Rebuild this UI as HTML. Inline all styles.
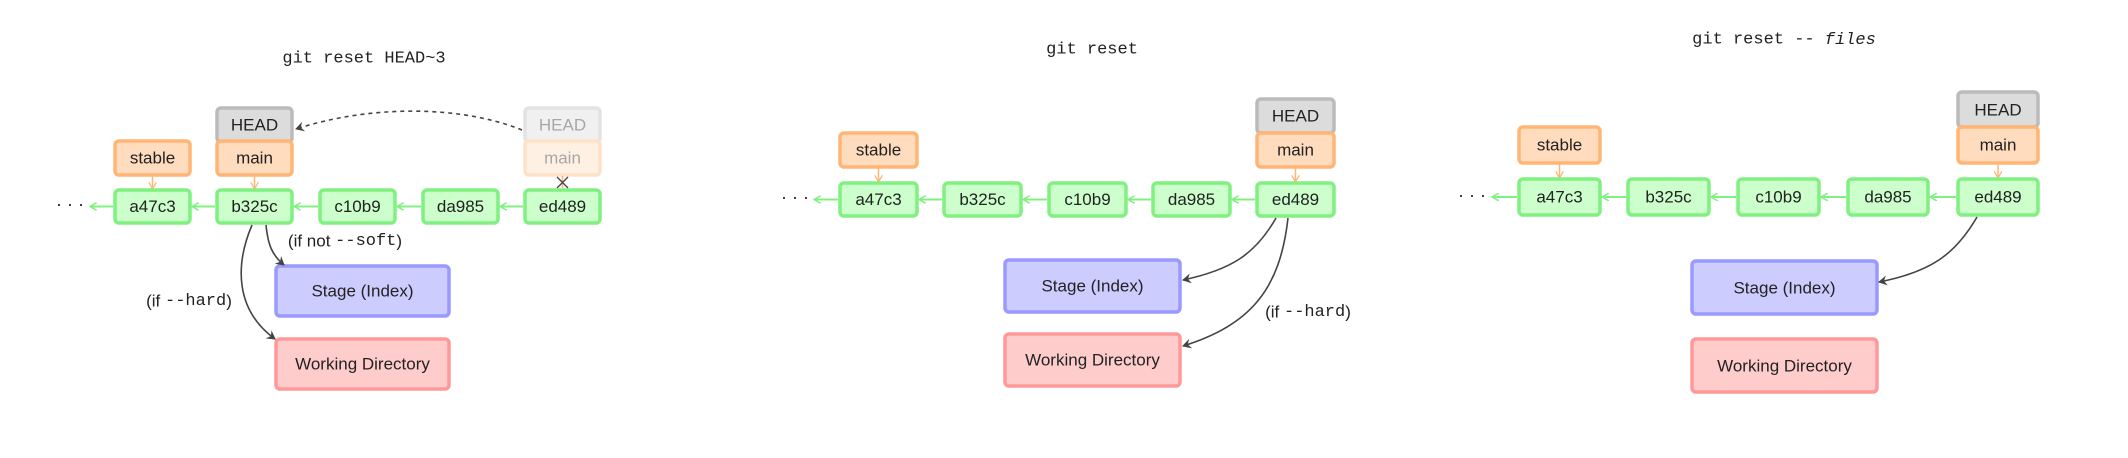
<!DOCTYPE html>
<html><head><meta charset="utf-8"><style>
html,body{margin:0;padding:0;background:#fff;}
svg{display:block;}
text{font-family:"Liberation Sans",sans-serif;font-size:17px;fill:#222;text-anchor:middle;dominant-baseline:central;}
.mono{font-family:"Liberation Mono",monospace;}
.g{fill:#ccffcc;stroke:#80f080;stroke-width:3.5;}
.o{fill:#ffdcbe;stroke:#ffb574;stroke-width:3.5;}
.h{fill:#dcdcdc;stroke:#bbbbbb;stroke-width:3.5;}
.b{fill:#ccccff;stroke:#9999ff;stroke-width:3.5;}
.r{fill:#ffcccc;stroke:#ff9999;stroke-width:3.5;}
.ga{stroke:#80f080;stroke-width:2;fill:none;}
.oa{stroke:#ffb574;stroke-width:1.5;fill:none;}
.k{stroke:#444;stroke-width:1.6;fill:none;}
</style></head><body>
<svg width="2128" height="458" viewBox="0 0 2128 458" xmlns="http://www.w3.org/2000/svg">
<defs>
<marker id="ag" markerWidth="8" markerHeight="8" refX="6" refY="4" orient="auto" markerUnits="userSpaceOnUse"><path d="M0,0 L7,4 L0,8" fill="none" stroke="#80f080" stroke-width="1.5"/></marker>
<marker id="ao" markerWidth="8" markerHeight="8" refX="6" refY="4" orient="auto" markerUnits="userSpaceOnUse"><path d="M0,0 L7,4 L0,8" fill="none" stroke="#ffb574" stroke-width="1.3"/></marker>
<marker id="ak" markerWidth="10" markerHeight="10" refX="8" refY="5" orient="auto" markerUnits="userSpaceOnUse"><path d="M0,0 L9,5 L0,10 L3,5 Z" fill="#444"/></marker>
</defs>

<!-- Panel 1 -->
<text class="mono" x="364" y="59">git reset HEAD~3</text>
<rect class="h" x="217" y="108" width="75" height="34" rx="4"/><text x="254.5" y="125">HEAD</text>
<rect class="o" x="217" y="141" width="75" height="34" rx="4"/><text x="254.5" y="158">main</text>
<rect class="o" x="115" y="141" width="75" height="34" rx="4"/><text x="152.5" y="158">stable</text>
<g opacity="0.4">
<rect class="h" x="525" y="108" width="75" height="34" rx="4"/><text x="562.5" y="125">HEAD</text>
<rect class="o" x="525" y="141" width="75" height="34" rx="4"/><text x="562.5" y="158">main</text>
</g>
<line class="oa" x1="562.5" y1="176" x2="562.5" y2="188"/>
<path d="M557,177 L568,188 M568,177 L557,188" stroke="#444" stroke-width="1.3"/>
<line class="oa" x1="152.5" y1="176" x2="152.5" y2="188" marker-end="url(#ao)"/>
<line class="oa" x1="254.5" y1="176" x2="254.5" y2="188" marker-end="url(#ao)"/>
<rect class="g" x="115" y="190" width="75" height="33" rx="4"/><text x="152.5" y="206.5">a47c3</text>
<rect class="g" x="217" y="190" width="75" height="33" rx="4"/><text x="254.5" y="206.5">b325c</text>
<rect class="g" x="320" y="190" width="75" height="33" rx="4"/><text x="357.5" y="206.5">c10b9</text>
<rect class="g" x="423" y="190" width="75" height="33" rx="4"/><text x="460.5" y="206.5">da985</text>
<rect class="g" x="525" y="190" width="75" height="33" rx="4"/><text x="562.5" y="206.5">ed489</text>
<line class="ga" x1="113" y1="206.5" x2="91" y2="206.5" marker-end="url(#ag)"/>
<line class="ga" x1="215" y1="206.5" x2="193" y2="206.5" marker-end="url(#ag)"/>
<line class="ga" x1="318" y1="206.5" x2="295" y2="206.5" marker-end="url(#ag)"/>
<line class="ga" x1="421" y1="206.5" x2="398" y2="206.5" marker-end="url(#ag)"/>
<line class="ga" x1="523" y1="206.5" x2="501" y2="206.5" marker-end="url(#ag)"/>
<text x="70" y="204" style="font-size:18px">· · ·</text>
<path class="k" d="M522,130 C460,105 370,105 296,129" stroke-dasharray="4,4" marker-end="url(#ak)"/>
<rect class="b" x="276" y="266" width="173" height="50" rx="4"/><text x="362.5" y="291">Stage (Index)</text>
<rect class="r" x="276" y="339" width="173" height="50" rx="4"/><text x="362.5" y="364">Working Directory</text>
<path class="k" d="M266,225 C268,245 272,255 284,265" marker-end="url(#ak)"/>
<path class="k" d="M252,225 C235,265 235,310 275,339" marker-end="url(#ak)"/>
<text x="345" y="241">(if not <tspan class="mono">--soft</tspan>)</text>
<text x="189" y="301">(if <tspan class="mono">--hard</tspan>)</text>

<!-- Panel 2 -->
<text class="mono" x="1092" y="50">git reset</text>
<rect class="h" x="1257" y="99" width="77" height="34" rx="4"/><text x="1295.5" y="116">HEAD</text>
<rect class="o" x="1257" y="133" width="77" height="34" rx="4"/><text x="1295.5" y="150">main</text>
<rect class="o" x="840" y="133" width="77" height="34" rx="4"/><text x="878.5" y="150">stable</text>
<line class="oa" x1="878.5" y1="168" x2="878.5" y2="181" marker-end="url(#ao)"/>
<line class="oa" x1="1295.5" y1="168" x2="1295.5" y2="181" marker-end="url(#ao)"/>
<rect class="g" x="840" y="183" width="77" height="33" rx="4"/><text x="878.5" y="199.5">a47c3</text>
<rect class="g" x="944" y="183" width="77" height="33" rx="4"/><text x="982.5" y="199.5">b325c</text>
<rect class="g" x="1049" y="183" width="77" height="33" rx="4"/><text x="1087.5" y="199.5">c10b9</text>
<rect class="g" x="1153" y="183" width="77" height="33" rx="4"/><text x="1191.5" y="199.5">da985</text>
<rect class="g" x="1257" y="183" width="77" height="33" rx="4"/><text x="1295.5" y="199.5">ed489</text>
<line class="ga" x1="838" y1="199.5" x2="815" y2="199.5" marker-end="url(#ag)"/>
<line class="ga" x1="942" y1="199.5" x2="920" y2="199.5" marker-end="url(#ag)"/>
<line class="ga" x1="1047" y1="199.5" x2="1024" y2="199.5" marker-end="url(#ag)"/>
<line class="ga" x1="1151" y1="199.5" x2="1129" y2="199.5" marker-end="url(#ag)"/>
<line class="ga" x1="1255" y1="199.5" x2="1233" y2="199.5" marker-end="url(#ag)"/>
<text x="795" y="197" style="font-size:18px">· · ·</text>
<rect class="b" x="1005" y="260" width="175" height="52" rx="4"/><text x="1092.5" y="286">Stage (Index)</text>
<rect class="r" x="1005" y="334" width="175" height="52" rx="4"/><text x="1092.5" y="360">Working Directory</text>
<path class="k" d="M1276,218 C1255,255 1230,270 1183,280" marker-end="url(#ak)"/>
<path class="k" d="M1288,218 C1280,290 1250,325 1183,346" marker-end="url(#ak)"/>
<text x="1308" y="312">(if <tspan class="mono">--hard</tspan>)</text>

<!-- Panel 3 -->
<text class="mono" x="1784" y="40">git reset -- <tspan font-style="italic">files</tspan></text>
<rect class="h" x="1958" y="92" width="80" height="35" rx="4"/><text x="1998" y="110">HEAD</text>
<rect class="o" x="1958" y="127" width="80" height="36" rx="4"/><text x="1998" y="145">main</text>
<rect class="o" x="1519" y="127" width="81" height="36" rx="4"/><text x="1559.5" y="145">stable</text>
<line class="oa" x1="1559.5" y1="164" x2="1559.5" y2="177" marker-end="url(#ao)"/>
<line class="oa" x1="1998" y1="164" x2="1998" y2="177" marker-end="url(#ao)"/>
<rect class="g" x="1519" y="179" width="81" height="36" rx="4"/><text x="1559.5" y="197">a47c3</text>
<rect class="g" x="1628" y="179" width="81" height="36" rx="4"/><text x="1668.5" y="197">b325c</text>
<rect class="g" x="1738" y="179" width="81" height="36" rx="4"/><text x="1778.5" y="197">c10b9</text>
<rect class="g" x="1848" y="179" width="80" height="36" rx="4"/><text x="1888" y="197">da985</text>
<rect class="g" x="1958" y="179" width="80" height="36" rx="4"/><text x="1998" y="197">ed489</text>
<line class="ga" x1="1517" y1="197" x2="1493" y2="197" marker-end="url(#ag)"/>
<line class="ga" x1="1626" y1="197" x2="1603" y2="197" marker-end="url(#ag)"/>
<line class="ga" x1="1736" y1="197" x2="1712" y2="197" marker-end="url(#ag)"/>
<line class="ga" x1="1846" y1="197" x2="1822" y2="197" marker-end="url(#ag)"/>
<line class="ga" x1="1956" y1="197" x2="1931" y2="197" marker-end="url(#ag)"/>
<text x="1472" y="195" style="font-size:18px">· · ·</text>
<rect class="b" x="1692" y="261" width="185" height="53" rx="4"/><text x="1784.5" y="288">Stage (Index)</text>
<rect class="r" x="1692" y="339" width="185" height="53" rx="4"/><text x="1784.5" y="366">Working Directory</text>
<path class="k" d="M1977,217 C1955,255 1930,272 1879,282" marker-end="url(#ak)"/>
</svg>
</body></html>
